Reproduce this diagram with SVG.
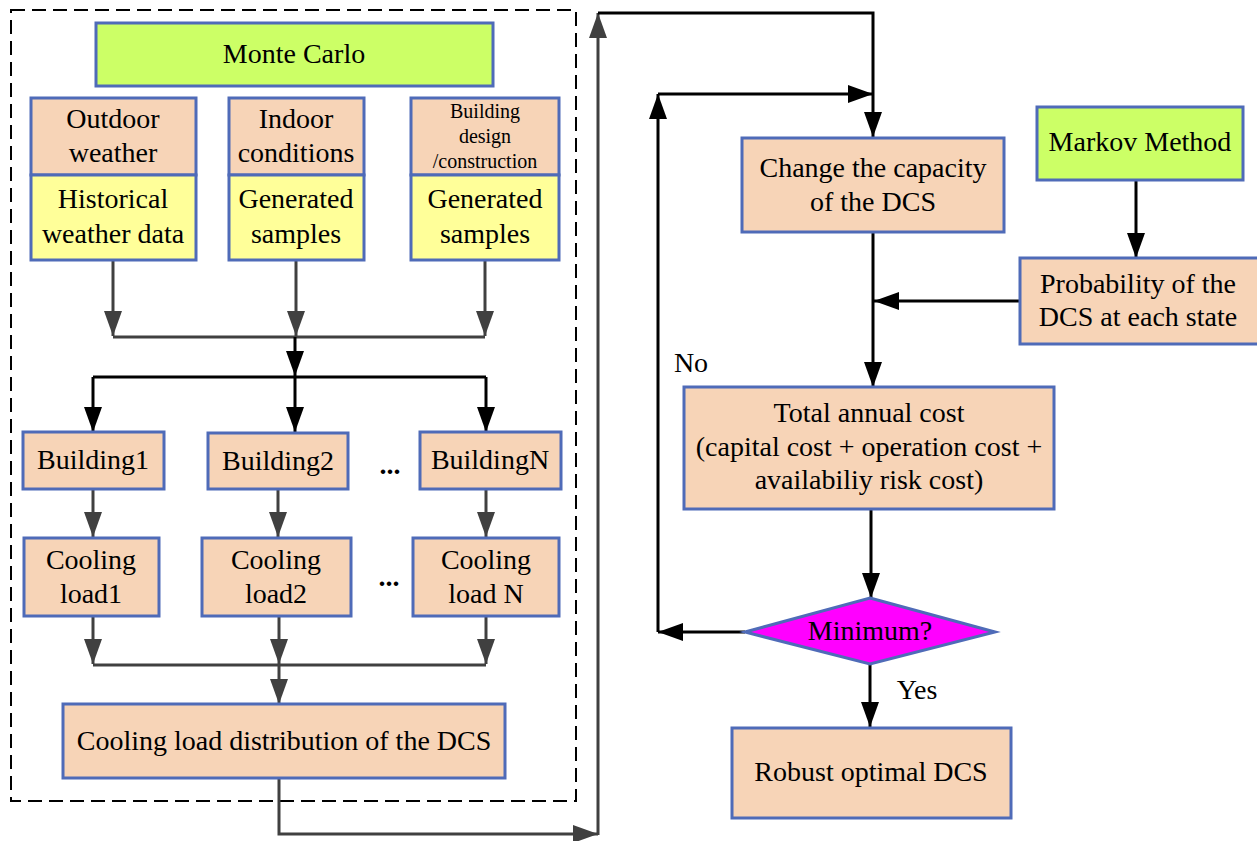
<svg xmlns="http://www.w3.org/2000/svg" width="1257" height="841" viewBox="0 0 1257 841">
<defs>
<marker id="ag" viewBox="0 0 25 18" refX="25" refY="9" markerWidth="25" markerHeight="18" markerUnits="userSpaceOnUse" orient="auto"><path d="M0,0 L25,9 L0,18 Z" fill="#404040"/></marker>
<marker id="ab" viewBox="0 0 25 18" refX="25" refY="9" markerWidth="25" markerHeight="18" markerUnits="userSpaceOnUse" orient="auto"><path d="M0,0 L25,9 L0,18 Z" fill="#000"/></marker>
</defs>
<style>
.b{stroke:#4F6BB8;stroke-width:3}
.p{fill:#F7D4B7}
.y{fill:#FFFF99}
.g{fill:#CCFF66}
.m{fill:#FF00FF}
.s{font-size:20px}
.d{font-weight:bold}
.cg{fill:none;stroke:#404040;stroke-width:3}
.cb{fill:none;stroke:#000;stroke-width:3}
</style>
<rect width="1257" height="841" fill="#fff"/>
<rect x="11" y="10" width="565" height="791" fill="none" stroke="#000" stroke-width="2" stroke-dasharray="14,7"/>
<g id="connectors">
<path class="cg" d="M113,260 V336" marker-end="url(#ag)"/>
<path class="cg" d="M296,260 V336" marker-end="url(#ag)"/>
<path class="cg" d="M485,260 V336" marker-end="url(#ag)"/>
<path class="cg" d="M113,337 H485"/>
<path class="cb" d="M295,337 V376" marker-end="url(#ab)"/>
<path class="cb" d="M93,377 H486"/>
<path class="cb" d="M93,377 V432" marker-end="url(#ab)"/>
<path class="cb" d="M295,377 V432" marker-end="url(#ab)"/>
<path class="cb" d="M486,377 V432" marker-end="url(#ab)"/>
<path class="cg" d="M93,489 V537" marker-end="url(#ag)"/>
<path class="cg" d="M278,489 V537" marker-end="url(#ag)"/>
<path class="cg" d="M486,489 V537" marker-end="url(#ag)"/>
<path class="cg" d="M93,616 V664" marker-end="url(#ag)"/>
<path class="cg" d="M279,616 V664" marker-end="url(#ag)"/>
<path class="cg" d="M486,616 V664" marker-end="url(#ag)"/>
<path class="cg" d="M93,665 H486"/>
<path class="cg" d="M279,665 V704" marker-end="url(#ag)"/>
<path class="cg" d="M279,778 V834 H598" marker-end="url(#ag)"/>
<path class="cg" d="M598,835 V13" marker-end="url(#ag)"/>
<path class="cb" d="M598,13 H873 V137" marker-end="url(#ab)"/>
<path class="cb" d="M745,632 H658" marker-end="url(#ab)"/>
<path class="cb" d="M658,632 V94" marker-end="url(#ab)"/>
<path class="cb" d="M658,94 H873" marker-end="url(#ab)"/>
<path class="cb" d="M1136,180 V258" marker-end="url(#ab)"/>
<path class="cb" d="M1020,301 H874" marker-end="url(#ab)"/>
<path class="cb" d="M873,232 V387" marker-end="url(#ab)"/>
<path class="cb" d="M871,509 V598" marker-end="url(#ab)"/>
<path class="cb" d="M870,664 V727" marker-end="url(#ab)"/>
</g>
<g font-family="Liberation Serif, Times New Roman, serif" font-size="28" text-anchor="middle" fill="#000">
<g id="monte-carlo"><rect class="b g" x="96" y="23" width="397" height="63"/><text x="294" y="63">Monte Carlo</text></g>
<g id="outdoor"><rect class="b p" x="31" y="98" width="165" height="77"/><text x="113" y="128">Outdoor</text><text x="113" y="162">weather</text></g>
<g id="historical"><rect class="b y" x="31" y="175" width="165" height="85"/><text x="113" y="208">Historical</text><text x="113" y="243">weather data</text></g>
<g id="indoor"><rect class="b p" x="229" y="98" width="135" height="77"/><text x="296" y="128">Indoor</text><text x="296" y="162">conditions</text></g>
<g id="generated1"><rect class="b y" x="229" y="175" width="135" height="85"/><text x="296" y="208">Generated</text><text x="296" y="243">samples</text></g>
<g id="building-design"><rect class="b p" x="411" y="98" width="148" height="77"/><text class="s" x="485" y="118">Building</text><text class="s" x="485" y="143">design</text><text class="s" x="485" y="168">/construction</text></g>
<g id="generated2"><rect class="b y" x="411" y="175" width="148" height="85"/><text x="485" y="208">Generated</text><text x="485" y="243">samples</text></g>
<g id="building1"><rect class="b p" x="23" y="432" width="141" height="57"/><text x="93" y="469">Building1</text></g>
<g id="building2"><rect class="b p" x="208" y="433" width="140" height="56"/><text x="278" y="470">Building2</text></g>
<g id="dots1"><text class="d" x="390" y="474">...</text></g>
<g id="buildingN"><rect class="b p" x="420" y="432" width="141" height="57"/><text x="490" y="469">BuildingN</text></g>
<g id="cooling1"><rect class="b p" x="24" y="538" width="135" height="78"/><text x="91" y="569">Cooling</text><text x="91" y="603">load1</text></g>
<g id="cooling2"><rect class="b p" x="202" y="538" width="149" height="78"/><text x="276" y="569">Cooling</text><text x="276" y="603">load2</text></g>
<g id="dots2"><text class="d" x="389" y="586">...</text></g>
<g id="coolingN"><rect class="b p" x="413" y="538" width="146" height="78"/><text x="486" y="569">Cooling</text><text x="486" y="603">load N</text></g>
<g id="distribution"><rect class="b p" x="63" y="704" width="442" height="74"/><text x="284" y="750">Cooling load distribution of the DCS</text></g>
<g id="change"><rect class="b p" x="742" y="138" width="262" height="94"/><text x="873" y="177">Change the capacity</text><text x="873" y="211">of the DCS</text></g>
<g id="markov"><rect class="b g" x="1037" y="107" width="206" height="73"/><text x="1140" y="151">Markov Method</text></g>
<g id="probability"><rect class="b p" x="1020" y="258" width="240" height="86"/><text x="1138" y="293">Probability of the</text><text x="1138" y="326">DCS at each state</text></g>
<g id="total"><rect class="b p" x="684" y="387" width="370" height="122"/><text x="869" y="422">Total annual cost</text><text x="869" y="456">(capital cost + operation cost +</text><text x="869" y="489">availabiliy risk cost)</text></g>
<g id="minimum"><polygon class="b m" points="870,598 995,632 870,664 745,632"/><text x="870" y="640">Minimum?</text></g>
<g id="robust"><rect class="b p" x="732" y="728" width="279" height="90"/><text x="871" y="781">Robust optimal DCS</text></g>
<g id="labels"><text x="691" y="372">No</text><text x="917" y="699">Yes</text></g>
</g>
</svg>
